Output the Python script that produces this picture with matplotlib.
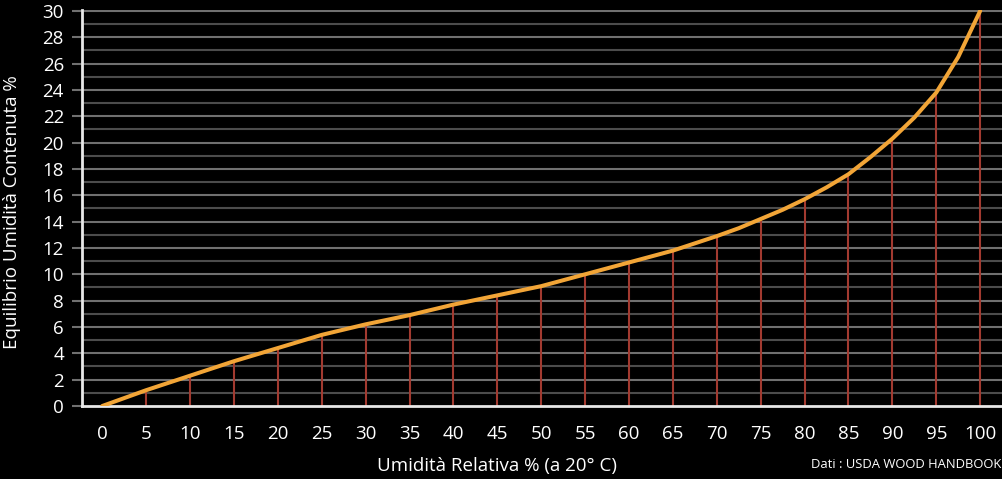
import numpy as np
import matplotlib.pyplot as plt

# Dati (umidita relativa % -> umidita di equilibrio %)
umidita_relativa = [0, 5, 10, 15, 20, 25, 30, 35, 40, 45, 50, 55, 60, 65, 70, 72.5, 75, 77.5,
                    80, 82.5, 85, 87.5, 90, 92.5, 95, 97.5, 100]
umidita_equilibrio = [0, 1.2, 2.3, 3.4, 4.4, 5.4, 6.2, 6.9, 7.7, 8.4, 9.1, 10.0, 10.9, 11.8, 12.9, 13.5, 14.2, 14.9,
                      15.7, 16.6, 17.6, 18.9, 20.3, 21.9, 23.8, 26.5, 30.0]
x_ticks = list(range(0, 101, 5))
y_ticks = list(range(0, 31, 2))

plt.rcParams['font.family'] = ['Open Sans', 'DejaVu Sans']

fig = plt.figure(figsize=(10.03, 4.79), dpi=100, facecolor='black')
ax = fig.add_axes([0.0818, 0.1524, 0.9182, 0.827])
ax.set_facecolor('black')

# griglia orizzontale
for v in range(1, 31):
    col = '#707070' if v % 2 == 0 else '#4c4c4c'
    ax.axhline(v, color=col, lw=1.5, zorder=1)

# linee verticali rosse fino alla curva
for xv, yv in zip(umidita_relativa, umidita_equilibrio):
    if xv in x_ticks and xv > 0:
        ax.vlines(xv, 0, yv, color='#a23a30', lw=1.5, zorder=2)

ax.plot(umidita_relativa, umidita_equilibrio, color='#f2a537', lw=2.9,
        solid_capstyle='round', solid_joinstyle='round', zorder=3)

ax.set_xlim(-2.3, 102.6)
ax.set_ylim(0, 30.08)
ax.set_xticks(x_ticks)
ax.set_yticks(y_ticks)
ax.tick_params(axis='x', length=0, pad=14, colors='white', labelsize=13.5)
ax.tick_params(axis='y', length=7, width=1.5, pad=6, colors='white', labelsize=13.5)
ax.tick_params(axis='y', color='#707070')

for s in ['top', 'right']:
    ax.spines[s].set_visible(False)
for s in ['left', 'bottom']:
    ax.spines[s].set_color('#e8e8e8')
    ax.spines[s].set_linewidth(2)

fig.text(497 / 1003, 1 - 466 / 479, 'Umidità Relativa % (a 20° C)', color='white',
         fontsize=13.5, ha='center', va='center')
fig.text(12 / 1003, 1 - 212 / 479, 'Equilibrio Umidità Contenuta %', color='white',
         fontsize=13.5, ha='center', va='center', rotation=90)

fig.text(0.998, 0.016, 'Dati : USDA WOOD HANDBOOK', color='white', fontsize=9.4,
         ha='right', va='bottom')

fig.savefig('out.png', dpi=100, facecolor='black')
